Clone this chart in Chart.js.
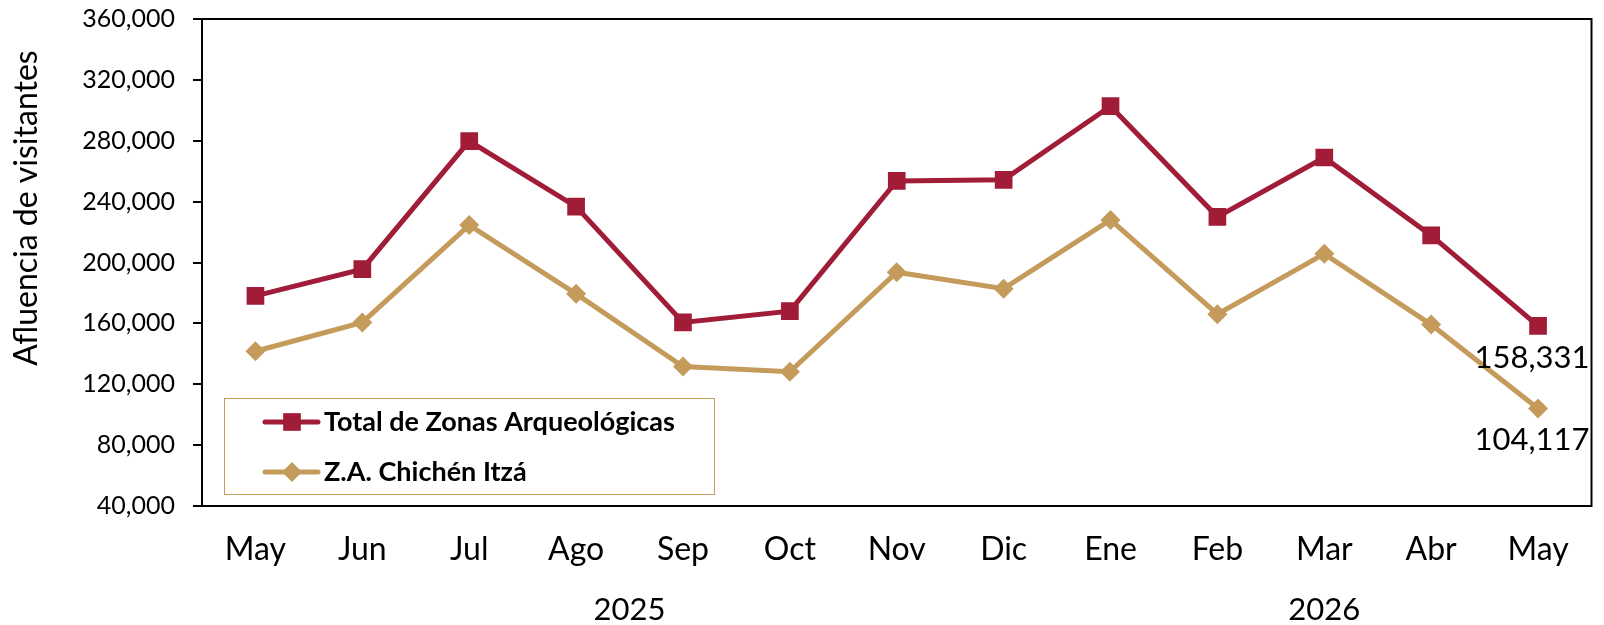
<!DOCTYPE html>
<html>
<head>
<meta charset="utf-8">
<script src="https://cdn.jsdelivr.net/npm/chart.js@4.4.1/dist/chart.umd.min.js"></script>
<style>
  html, body { margin: 0; padding: 0; background: #fff; }
  canvas { display: block; }
</style>
</head>
<body>
<canvas id="chart" width="1604" height="625"></canvas>
<script>
const months = ['May', 'Jun', 'Jul', 'Ago', 'Sep', 'Oct', 'Nov', 'Dic', 'Ene', 'Feb', 'Mar', 'Abr', 'May'];
const yearLabels = ['2025', '2026'];
const yearSpans = [[0, 7], [8, 12]];

const totalZonas = [178100, 195600, 279800, 236700, 160600, 168000, 253600, 254300, 302700, 230000, 269000, 217800, 158331];
const chichenItza = [141700, 160600, 224600, 179400, 131600, 128200, 193600, 182800, 228000, 166000, 205700, 159200, 104117];

const yMin = 40000;
const yMax = 360000;
const yStep = 40000;
const yTitle = 'Afluencia de visitantes';

const red = '#A01C37';
const gold = '#C59B5B';
const font = 'Lato';

const fmt = v => v.toLocaleString('en-US');

// black frame round the plot area
const framePlugin = {
    id: 'frame',
    afterDraw(chart) {
        const { ctx, chartArea: a } = chart;
        ctx.save();
        ctx.strokeStyle = '#000';
        ctx.lineWidth = 2;
        ctx.strokeRect(a.left, a.top, a.right - a.left, a.bottom - a.top);
        ctx.restore();
    }
};

// rotated y title, sits a bit above the middle like the original
const sideTitle = {
    id: 'sideTitle',
    afterDraw(chart) {
        const { ctx } = chart;
        ctx.save();
        ctx.translate(37, 208);
        ctx.rotate(-Math.PI / 2);
        ctx.fillStyle = '#000';
        ctx.font = '32px ' + font;
        ctx.textAlign = 'center';
        ctx.textBaseline = 'alphabetic';
        ctx.fillText(yTitle, 0, 0);
        ctx.restore();
    }
};

// legend box inside the plot, lower left
const boxLegend = {
    id: 'boxLegend',
    afterDraw(chart) {
        const { ctx, chartArea: a } = chart;
        const x = a.left + 22, y = a.bottom - 108, w = 490, h = 96;
        ctx.save();
        ctx.fillStyle = '#fff';
        ctx.fillRect(x, y, w, h);
        ctx.strokeStyle = gold;
        ctx.lineWidth = 1;
        ctx.strokeRect(x + 0.5, y + 0.5, w, h);
        const rows = [a.bottom - 84, a.bottom - 34];
        chart.data.datasets.forEach((ds, i) => {
            const ry = rows[i];
            ctx.strokeStyle = ds.borderColor;
            ctx.lineWidth = 5;
            ctx.lineCap = 'round';
            ctx.beginPath();
            ctx.moveTo(a.left + 63, ry);
            ctx.lineTo(a.left + 116, ry);
            ctx.stroke();
            ctx.fillStyle = ds.borderColor;
            Chart.helpers.drawPoint(ctx, {
                pointStyle: ds.pointStyle,
                radius: ds.pointRadius,
                borderWidth: 0,
                rotation: 0
            }, a.left + 90, ry);
            ctx.fillStyle = '#000';
            ctx.font = 'bold 27px ' + font;
            ctx.textBaseline = 'middle';
            ctx.textAlign = 'left';
            ctx.fillText(ds.label, a.left + 122, ry);
        });
        ctx.restore();
    }
};

// value labels on the last point of each series
const endLabels = {
    id: 'endLabels',
    afterDatasetsDraw(chart) {
        const { ctx, chartArea: a } = chart;
        ctx.save();
        ctx.fillStyle = '#000';
        ctx.font = '31px ' + font;
        ctx.textAlign = 'right';
        ctx.textBaseline = 'alphabetic';
        chart.data.datasets.forEach((ds, i) => {
            const pts = chart.getDatasetMeta(i).data;
            const p = pts[pts.length - 1];
            ctx.fillText(fmt(ds.data[ds.data.length - 1]), a.right - 2, p.y + 42);
        });
        ctx.restore();
    }
};

// year labels under the month labels
const yearRow = {
    id: 'yearRow',
    afterDraw(chart) {
        const { ctx } = chart;
        const xs = chart.scales.x;
        ctx.save();
        ctx.fillStyle = '#000';
        ctx.font = '31px ' + font;
        ctx.textAlign = 'center';
        ctx.textBaseline = 'alphabetic';
        yearLabels.forEach((lbl, i) => {
            const [from, to] = yearSpans[i];
            const cx = (xs.getPixelForValue(from) + xs.getPixelForValue(to)) / 2;
            ctx.fillText(lbl, cx, 620);
        });
        ctx.restore();
    }
};

new Chart(document.getElementById('chart'), {
    type: 'line',
    data: {
        labels: months,
        datasets: [{
            label: 'Total de Zonas Arqueológicas',
            data: totalZonas,
            borderColor: red,
            backgroundColor: red,
            borderWidth: 5,
            pointStyle: 'rect',
            pointRadius: 12.5,
            pointBorderWidth: 0,
            pointBackgroundColor: red,
            tension: 0
        }, {
            label: 'Z.A. Chichén Itzá',
            data: chichenItza,
            borderColor: gold,
            backgroundColor: gold,
            borderWidth: 5,
            pointStyle: 'rectRot',
            pointRadius: 10,
            pointBorderWidth: 0,
            pointBackgroundColor: gold,
            tension: 0
        }]
    },
    options: {
        responsive: false,
        devicePixelRatio: 1,
        animation: false,
        layout: {
            padding: { top: 19, right: 4, left: 0, bottom: 0 }
        },
        scales: {
            x: {
                offset: true,
                grid: { display: true, drawOnChartArea: false, drawTicks: false },
                border: { color: '#000', width: 2 },
                ticks: {
                    color: '#000',
                    font: { family: font, size: 32 },
                    padding: 24,
                    maxRotation: 0,
                    autoSkip: false
                },
                afterFit: s => { s.height = 119; }
            },
            y: {
                min: yMin,
                max: yMax,
                grid: { drawOnChartArea: false, tickLength: 9, color: '#000', lineWidth: 2 },
                border: { color: '#000', width: 2 },
                ticks: {
                    stepSize: yStep,
                    color: '#000',
                    font: { family: font, size: 25 },
                    padding: 18,
                    callback: v => fmt(v)
                },
                // top label room is already in layout.padding
                afterFit: s => { s.width = 202; s.paddingTop = 0; }
            }
        },
        plugins: {
            legend: { display: false },
            tooltip: { enabled: false }
        }
    },
    plugins: [framePlugin, endLabels, boxLegend, yearRow, sideTitle]
});
</script>
</body>
</html>
